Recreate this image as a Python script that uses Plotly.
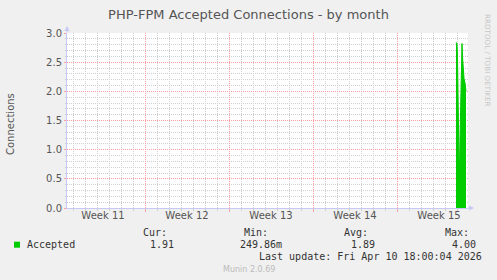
import pandas as pd
import plotly.graph_objects as go

# ---- data ----
times = ["2026-04-09 22:00", "2026-04-10 00:00", "2026-04-10 01:00", "2026-04-10 03:00",
         "2026-04-10 04:30", "2026-04-10 06:30", "2026-04-10 08:30", "2026-04-10 10:00",
         "2026-04-10 11:00", "2026-04-10 12:30", "2026-04-10 14:00", "2026-04-10 16:00",
         "2026-04-10 18:00"]
accepted = [2.84, 2.82, 2.60, 1.40, 0.45, 1.40, 2.50, 2.82, 2.60, 2.25, 2.22, 2.15, 2.00]

week_starts = ["2026-03-15", "2026-03-22", "2026-03-29", "2026-04-05"]
week_mids = ["2026-03-11 12:00", "2026-03-18 12:00", "2026-03-25 12:00",
             "2026-04-01 12:00", "2026-04-08 12:00"]
week_labels = ["Week 11", "Week 12", "Week 13", "Week 14", "Week 15"]

y_ticks = [0.0, 0.5, 1.0, 1.5, 2.0, 2.5, 3.0]

stat_labels = ["Cur:", "Min:", "Avg:", "Max:"]
stat_values = ["1.91", "249.86m", "1.89", "4.00"]
series_name = "Accepted"
last_update = "Last update: Fri Apr 10 18:00:04 2026"

x_range = ["2026-03-08 12:00", "2026-04-10 22:00"]
y_range = [0, 3.0]

# minor grid positions (daily / 0.1), skipping the major ones
ws = set(pd.to_datetime(week_starts))
day_minor = [d.strftime("%Y-%m-%d") for d in pd.date_range("2026-03-09", "2026-04-10", freq="D")
             if d not in ws]
y_minor = [round(i * 0.1, 1) for i in range(1, 30) if i % 5 != 0]

# ---- layout geometry (pixels) ----
W, H = 497, 280
L, R, T, B = 67, 29, 33, 72
PW = W - L - R
PH = H - T - B


def px(x):
    return (x - L) / PW


def py(y):
    return (H - B - y) / PH


GREEN = "#00cc00"
MAJ = "#ffa0a0"
MIN = "#d0d0d0"
AX = "#c8c8f4"

fig = go.Figure()
fig.add_trace(go.Scatter(x=times, y=accepted, mode="lines", fill="tozeroy",
                         line=dict(color=GREEN, width=1), fillcolor=GREEN,
                         showlegend=False, hoverinfo="skip"))
# helper trace for the overlaying label axis
fig.add_trace(go.Scatter(x=[x_range[0]], y=[0], xaxis="x2", mode="markers",
                         marker=dict(opacity=0), showlegend=False, hoverinfo="skip"))

tickfont = dict(family="DejaVu Sans", size=10, color="#555555")

fig.update_layout(
    width=W, height=H,
    margin=dict(l=L, r=R, t=T, b=B),
    paper_bgcolor="#f0f0f0", plot_bgcolor="#ffffff",
    title=dict(text="PHP-FPM Accepted Connections - by month",
               x=0.5, xanchor="center", y=1 - 14 / H, yanchor="middle",
               font=dict(family="DejaVu Sans", size=13, color="#555555")),
    xaxis=dict(type="date", range=x_range, tickmode="array", tickvals=week_starts,
               showticklabels=False,
               showgrid=True, gridcolor=MAJ, griddash="1px,1px", gridwidth=1,
               ticks="outside", ticklen=3, tickcolor=MAJ,
               showline=True, linecolor=AX, linewidth=1, zeroline=False,
               minor=dict(tickmode="array", tickvals=day_minor, showgrid=True,
                          gridcolor=MIN, griddash="1px,1px", gridwidth=1,
                          ticks="outside", ticklen=2, tickcolor=MIN)),
    xaxis2=dict(type="date", range=x_range, overlaying="x", anchor="y", side="bottom",
                tickmode="array", tickvals=week_mids, ticktext=week_labels,
                tickfont=tickfont, showgrid=False, ticks="", showline=False,
                zeroline=False),
    yaxis=dict(range=y_range, tickmode="array", tickvals=y_ticks,
               tickformat=".1f", tickfont=tickfont, showgrid=True, gridcolor=MAJ,
               griddash="1px,1px", ticks="outside", ticklen=2, tickcolor=MAJ,
               showline=True, linecolor=AX, linewidth=1, zeroline=False,
               minor=dict(tickmode="array", tickvals=y_minor, showgrid=True,
                          gridcolor=MIN, griddash="1px,1px",
                          ticks="outside", ticklen=1, tickcolor=MIN)),
)

ann = []
# y axis title
ann.append(dict(xref="paper", yref="paper", x=px(10), y=py(124), text="Connections",
                textangle=-90, showarrow=False, xanchor="center", yanchor="middle",
                font=dict(family="DejaVu Sans", size=10, color="#555555")))
# vendor text
ann.append(dict(xref="paper", yref="paper", x=px(487.5), y=py(60.5),
                text="RRDTOOL / TOBI OETIKER", textangle=90, showarrow=False,
                xanchor="center", yanchor="middle",
                font=dict(family="DejaVu Sans", size=7.2, color="#c8c8c8")))
# axis arrows
ann.append(dict(xref="paper", yref="paper", x=px(474), y=0, ax=-8, ay=0,
                text="", showarrow=True, arrowhead=2, arrowsize=1, arrowwidth=1,
                arrowcolor=AX))
ann.append(dict(xref="paper", yref="paper", x=0, y=py(26), ax=0, ay=8,
                text="", showarrow=True, arrowhead=2, arrowsize=1, arrowwidth=1,
                arrowcolor=AX))

mono = dict(family="DejaVu Sans Mono", size=10, color="#333333")
head_right = [168.3, 269, 369.3, 470]
val_right = [175, 282.7, 376, 476.7]
for lab, v, hx, vx in zip(stat_labels, stat_values, head_right, val_right):
    ann.append(dict(xref="paper", yref="paper", x=px(hx + 1), y=py(232.7), text=lab,
                    xanchor="right", yanchor="middle", showarrow=False, font=mono))
    ann.append(dict(xref="paper", yref="paper", x=px(vx + 1), y=py(244.3), text=v,
                    xanchor="right", yanchor="middle", showarrow=False, font=mono))
ann.append(dict(xref="paper", yref="paper", x=px(25), y=py(244.3), text=series_name,
                xanchor="left", yanchor="middle", showarrow=False, font=mono))
ann.append(dict(xref="paper", yref="paper", x=px(483.7), y=py(256.7), text=last_update,
                xanchor="right", yanchor="middle", showarrow=False, font=mono))
ann.append(dict(xref="paper", yref="paper", x=px(248.5), y=py(269.3), text="Munin 2.0.69",
                xanchor="center", yanchor="middle", showarrow=False,
                font=dict(family="DejaVu Sans", size=8, color="#bbbbbb")))
fig.update_layout(annotations=ann)

fig.add_shape(type="rect", xref="paper", yref="paper",
              x0=px(14), x1=px(20), y0=py(247.7), y1=py(241.7),
              fillcolor=GREEN, line=dict(width=0))

fig.write_html("out.html")
